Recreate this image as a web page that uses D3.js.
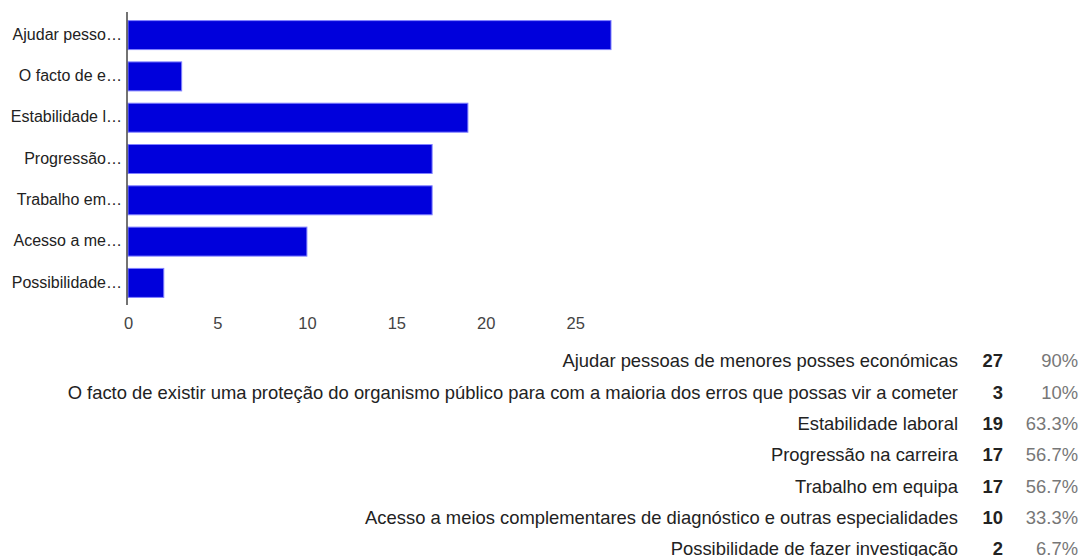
<!DOCTYPE html>
<html>
<head>
<meta charset="utf-8">
<script src="https://d3js.org/d3.v7.min.js"></script>
<style>
  body { margin: 0; background: #fff; }
  svg { display: block; font-family: Arial, "Liberation Sans", sans-serif; }
</style>
</head>
<body>
<div id="chart"></div>
<script>
const categories = [
    "Ajudar pessoas de menores posses económicas",
    "O facto de existir uma proteção do organismo público para com a maioria dos erros que possas vir a cometer",
    "Estabilidade laboral",
    "Progressão na carreira",
    "Trabalho em equipa",
    "Acesso a meios complementares de diagnóstico e outras especialidades",
    "Possibilidade de fazer investigação"
];
const axisLabels = ["Ajudar pesso…", "O facto de e…", "Estabilidade l…", "Progressão…", "Trabalho em…", "Acesso a me…", "Possibilidade…"];
const counts = [27, 3, 19, 17, 17, 10, 2];
const percents = ["90%", "10%", "63.3%", "56.7%", "56.7%", "33.3%", "6.7%"];
const xTicks = [0, 5, 10, 15, 20, 25];

const width = 1083, height = 556;

const svg = d3.select("#chart").append("svg")
    .attr("width", width)
    .attr("height", height);

const x = d3.scaleLinear().domain([0, 27]).range([128, 611]);
const y = d3.scaleBand().domain(categories).range([12, 305])
    .paddingInner(0.298).paddingOuter(0.196);

// bars
svg.selectAll("rect.bar")
    .data(categories)
    .join("rect")
    .attr("class", "bar")
    .attr("x", x(0))
    .attr("y", d => y(d) + 0.5)
    .attr("width", (d, i) => x(counts[i]) - x(0))
    .attr("height", y.bandwidth())
    .attr("fill", "#0000dc")
    .attr("stroke", "#8080ff")
    .attr("stroke-width", 1);

// vertical baseline
svg.append("line")
    .attr("x1", 127).attr("x2", 127)
    .attr("y1", 12).attr("y2", 305)
    .attr("stroke", "#444")
    .attr("stroke-width", 1.5);

// left labels
const yAxis = d3.axisLeft(y).tickSize(0).tickPadding(5)
    .tickFormat((d, i) => axisLabels[i]);
const yg = svg.append("g")
    .attr("transform", "translate(127,0)")
    .call(yAxis);
yg.select(".domain").remove();
yg.selectAll("text")
    .attr("font-size", 16)
    .attr("font-family", "Arial, 'Liberation Sans', sans-serif")
    .attr("fill", "#222");

// bottom ticks
const xAxis = d3.axisBottom(x).tickValues(xTicks).tickSize(0).tickPadding(0);
const xg = svg.append("g")
    .attr("transform", "translate(0,317.5)")
    .call(xAxis);
xg.select(".domain").remove();
xg.selectAll("text")
    .attr("font-size", 16.5)
    .attr("font-family", "Arial, 'Liberation Sans', sans-serif")
    .attr("fill", "#444");

// table under the chart
const rowY = d3.scaleLinear().domain([0, 1]).range([367.4, 398.7]);
const rows = svg.append("g")
    .attr("font-size", 18.4)
    .attr("font-family", "Arial, 'Liberation Sans', sans-serif");

rows.selectAll("text.lbl")
    .data(categories)
    .join("text")
    .attr("class", "lbl")
    .attr("x", 958)
    .attr("y", (d, i) => rowY(i))
    .attr("text-anchor", "end")
    .attr("fill", "#222")
    .text(d => d);

rows.selectAll("text.cnt")
    .data(counts)
    .join("text")
    .attr("class", "cnt")
    .attr("x", 1003)
    .attr("y", (d, i) => rowY(i))
    .attr("text-anchor", "end")
    .attr("font-weight", "bold")
    .attr("fill", "#222")
    .text(d => d);

rows.selectAll("text.pct")
    .data(percents)
    .join("text")
    .attr("class", "pct")
    .attr("x", 1078)
    .attr("y", (d, i) => rowY(i))
    .attr("text-anchor", "end")
    .attr("fill", "#777")
    .text(d => d);
</script>
</body>
</html>
